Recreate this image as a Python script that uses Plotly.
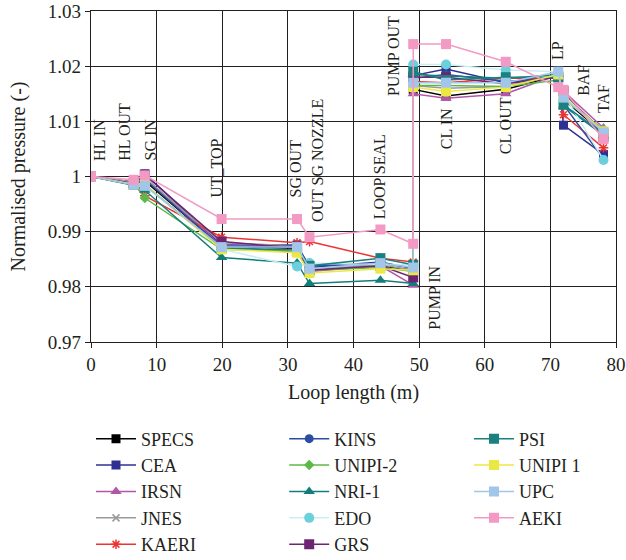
import plotly.graph_objects as go

# Loop positions (m) of the measurement stations
loop_length = [0, 6.5, 8.2, 19.9, 31.4, 33.3, 44.1, 49.1, 49.1, 54.1, 63.2, 71.2, 72.0, 78.1]

# Normalised pressure per participant at each station
specs  = [1.0, 0.9988, 0.9992, 0.9873, 0.9870, 0.9830, 0.9838, 0.9830, 1.0158, 1.0146, 1.0158, 1.0183, 1.0140, 1.0078]
cea    = [1.0, 0.9990, 1.0005, 0.9876, 0.9876, 0.9835, 0.9845, 0.9833, 1.0183, 1.0195, 1.0170, 1.0182, 1.0093, 1.0040]
irsn   = [1.0, 0.9988, 0.9998, 0.9874, 0.9862, 0.9828, 0.9838, 0.9803, 1.0150, 1.0142, 1.0150, 1.0185, 1.0155, 1.0088]
jnes   = [1.0, 0.9990, 0.9997, 0.9880, 0.9874, 0.9832, 0.9840, 0.9830, 1.0165, 1.0160, 1.0163, 1.0184, 1.0150, 1.0082]
kaeri  = [1.0, 0.9985, 0.9965, 0.9890, 0.9880, 0.9882, 0.9852, 0.9845, 1.0172, 1.0170, 1.0178, 1.0178, 1.0112, 1.0052]
kins   = [1.0, 0.9987, 0.9995, 0.9872, 0.9874, 0.9838, 0.9842, 0.9835, 1.0178, 1.0185, 1.0172, 1.0180, 1.0130, 1.0032]
unipi2 = [1.0, 0.9988, 0.9961, 0.9868, 0.9865, 0.9830, 0.9835, 0.9828, 1.0165, 1.0165, 1.0163, 1.0175, 1.0140, 1.0085]
nri1   = [1.0, 0.9984, 0.9975, 0.9853, 0.9843, 0.9806, 0.9812, 0.9806, 1.0185, 1.0182, 1.0178, 1.0185, 1.0128, 1.0075]
edo    = [1.0, 0.9988, 0.9985, 0.9868, 0.9837, 0.9843, 0.9840, 0.9840, 1.0203, 1.0203, 1.0193, 1.0190, 1.0150, 1.0030]
grs    = [1.0, 0.9988, 1.0003, 0.9882, 0.9870, 0.9830, 0.9838, 0.9817, 1.0180, 1.0180, 1.0168, 1.0180, 1.0155, 1.0072]
psi    = [1.0, 0.9985, 0.9985, 0.9870, 0.9867, 0.9838, 0.9852, 0.9840, 1.0190, 1.0175, 1.0180, 1.0180, 1.0130, 1.0078]
unipi1 = [1.0, 0.9986, 0.9985, 0.9868, 0.9862, 0.9825, 0.9833, 0.9830, 1.0162, 1.0154, 1.0162, 1.0185, 1.0145, 1.0082]
upc    = [1.0, 0.9985, 0.9983, 0.9872, 0.9872, 0.9833, 0.9843, 0.9835, 1.0170, 1.0170, 1.0170, 1.0190, 1.0143, 1.0080]
aeki   = [1.0, 0.9994, 1.0002, 0.9923, 0.9923, 0.9890, 0.9904, 0.9878, 1.0240, 1.0240, 1.0208, 1.0162, 1.0157, 1.0068]

# Station labels: (text, x, y of the label's lower end)
station_labels = ["HL IN", "HL OUT", "SG IN", "UT_TOP", "SG OUT", "OUT SG NOZZLE", "LOOP SEAL",
                  "PUMP OUT", "PUMP IN", "CL IN", "CL OUT", "LP", "BAF", "TAF"]
label_x = [1.4, 5.2, 9.1, 19.0, 31.2, 34.6, 43.9, 46.0, 52.3, 54.1, 63.1, 71.2, 75.0, 78.0]
label_y = [1.0025, 1.0025, 1.0025, 0.9958, 0.9958, 0.9913, 0.9918, 1.0142, 0.9719, 1.0045, 1.0036, 1.0207, 1.0142, 1.0112]

y_ticks = [0.97, 0.98, 0.99, 1.0, 1.01, 1.02, 1.03]
y_tick_text = ["0.97", "0.98", "0.99", "1", "1.01", "1.02", "1.03"]

FONT = "Liberation Serif"
INK = "#231f20"

# name, values, line colour, marker colour, symbol, marker size, legend column
series = [
    ("SPECS",   specs,  "#000000", "#000000", "square",        9, "legend"),
    ("CEA",     cea,    "#2e3192", "#2e3192", "square",        9, "legend"),
    ("IRSN",    irsn,   "#b356a8", "#b356a8", "triangle-up",   10, "legend"),
    ("JNES",    jnes,   "#9a9a9a", "#9a9a9a", "x-thin-open",   7, "legend"),
    ("KAERI",   kaeri,  "#ee3333", "#ee3333", "asterisk-open", 8, "legend"),
    ("KINS",    kins,   "#2b4ea2", "#2b4ea2", "circle",        9, "legend2"),
    ("UNIPI-2", unipi2, "#5cb947", "#5cb947", "diamond",       8, "legend2"),
    ("NRI-1",   nri1,   "#137d7b", "#137d7b", "triangle-up",   10, "legend2"),
    ("EDO",     edo,    "#c9eef3", "#6ccfdc", "circle",        10, "legend2"),
    ("GRS",     grs,    "#6d2473", "#6d2473", "square",        10, "legend2"),
    ("PSI",     psi,    "#1a8080", "#1a8080", "square",        10, "legend3"),
    ("UNIPI 1", unipi1, "#ebe843", "#ebe843", "square",        10, "legend3"),
    ("UPC",     upc,    "#a2c6ea", "#a2c6ea", "square",        10, "legend3"),
    ("AEKI",    aeki,   "#f29ac4", "#f29ac4", "square",        10, "legend3"),
]

fig = go.Figure()
for name, vals, lc, mc, sym, size, leg in series:
    is_line_symbol = sym in ("x-thin-open", "asterisk-open")
    fig.add_trace(go.Scatter(
        x=loop_length, y=vals, name=name, mode="lines+markers",
        line=dict(color=lc, width=1.5),
        marker=dict(symbol=sym, size=size, color=mc,
                    line=dict(color=mc, width=1.5 if is_line_symbol else 0)),
        legend=leg, legendgroup=name,
    ))

for text, x, y in zip(station_labels, label_x, label_y):
    fig.add_annotation(x=x, y=y, text=text, textangle=-90, showarrow=False,
                       xanchor="center", yanchor="bottom",
                       font=dict(family=FONT, size=16, color=INK))

axis_common = dict(showline=True, linecolor=INK, linewidth=1.2,
                   showgrid=True, gridcolor=INK, gridwidth=1,
                   ticks="outside", ticklen=5, tickcolor=INK,
                   tickfont=dict(family=FONT, size=19, color=INK),
                   zeroline=False, mirror=True)

fig.update_xaxes(range=[0, 80], dtick=10, tick0=0,
                 title=dict(text="Loop length (m)", font=dict(family=FONT, size=20, color=INK), standoff=11),
                 **axis_common)
fig.update_yaxes(range=[0.97, 1.03], tickvals=y_ticks, ticktext=y_tick_text,
                 title=dict(text="Normalised pressure (-)", font=dict(family=FONT, size=20, color=INK), standoff=16),
                 **axis_common)

legend_common = dict(orientation="v", y=-0.237, yanchor="top", xanchor="left",
                     itemwidth=40, tracegroupgap=0,
                     font=dict(family=FONT, size=18, color=INK),
                     bgcolor="rgba(0,0,0,0)")

fig.update_layout(
    width=626, height=560,
    margin=dict(l=91, r=10, t=11, b=218, autoexpand=False),
    plot_bgcolor="white", paper_bgcolor="white",
    font=dict(family=FONT, size=19, color=INK),
    showlegend=True,
    legend=dict(x=0.0, **legend_common),
    legend2=dict(x=0.368, **legend_common),
    legend3=dict(x=0.72, **legend_common),
)

fig.write_html("out.html")
